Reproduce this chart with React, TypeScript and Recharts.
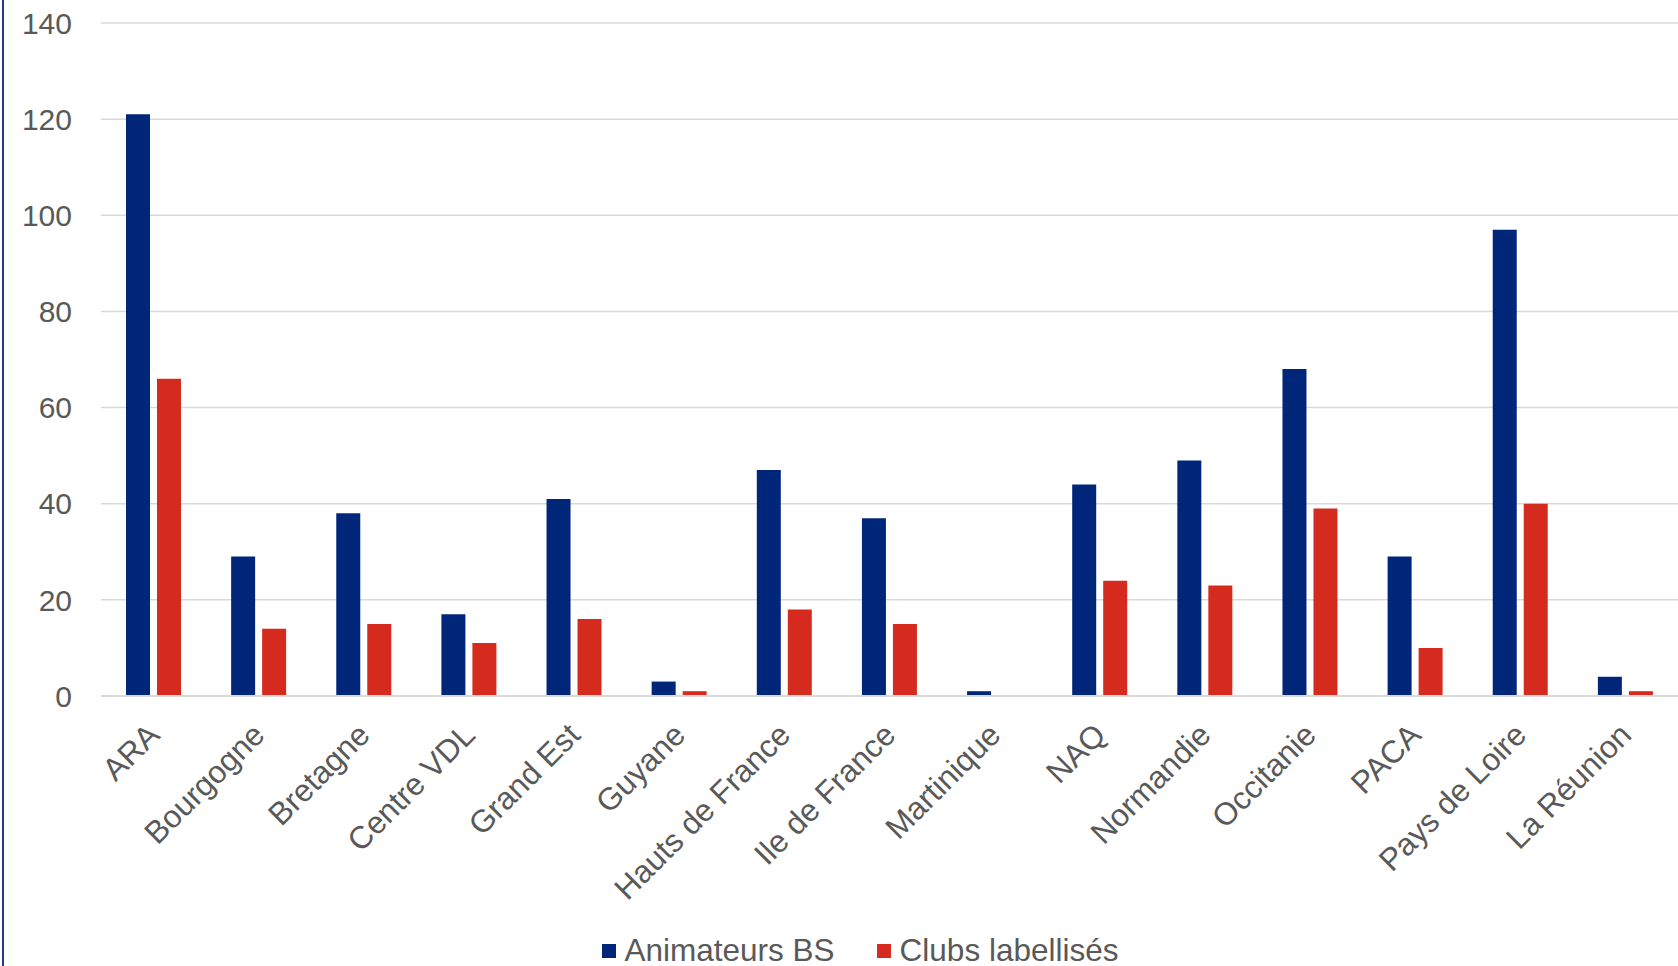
import { BarChart, Bar, XAxis, YAxis, CartesianGrid, Legend } from "recharts";

// régions
const regions = [
  "ARA",
  "Bourgogne",
  "Bretagne",
  "Centre VDL",
  "Grand Est",
  "Guyane",
  "Hauts de France",
  "Ile de France",
  "Martinique",
  "NAQ",
  "Normandie",
  "Occitanie",
  "PACA",
  "Pays de Loire",
  "La Réunion"
];

const animateurs = [121, 29, 38, 17, 41, 3, 47, 37, 1, 44, 49, 68, 29, 97, 4];
const clubs = [66, 14, 15, 11, 16, 1, 18, 15, 0, 24, 23, 39, 10, 40, 1];

const yTicks = [0, 20, 40, 60, 80, 100, 120, 140];

const BLUE = "#00267A";
const RED = "#D52B1F";
const TEXT = "#595959";
const FONT = "'Liberation Sans', Arial, sans-serif";

const data = regions.map((name, i) => ({
  name,
  animateurs: animateurs[i],
  clubs: clubs[i]
}));

function RegionTick(props: any) {
  const { x, y, payload } = props;
  const ax = x - 8;
  const ay = y + 25;
  return (
    <text
      x={ax}
      y={ay}
      dy="0.71em"
      transform={`rotate(-45, ${ax}, ${ay})`}
      textAnchor="end"
      fill={TEXT}
      fontSize={31.5}
      fontFamily={FONT}
    >
      {payload.value}
    </text>
  );
}

function LegendContent() {
  const items = [
    { label: "Animateurs BS", color: BLUE },
    { label: "Clubs labellisés", color: RED }
  ];
  return (
    <div
      style={{
        display: "flex",
        justifyContent: "center",
        alignItems: "center",
        paddingLeft: 42,
        transform: "translateY(12px)"
      }}
    >
      {items.map(it => (
        <span
          key={it.label}
          style={{
            display: "inline-flex",
            alignItems: "center",
            margin: "0 21px",
            fontSize: 31.5,
            fontFamily: FONT,
            color: TEXT
          }}
        >
          <span
            style={{
              width: 14,
              height: 14,
              background: it.color,
              display: "inline-block",
              marginRight: 9
            }}
          />
          {it.label}
        </span>
      ))}
    </div>
  );
}

export default function App() {
  return (
    <div style={{ position: "absolute", left: 0, top: 0, width: 1678, height: 966, background: "#fff" }}>
      <div
        style={{
          position: "absolute",
          left: 2,
          top: 0,
          width: 2,
          height: 966,
          background: "#1F3A8A"
        }}
      />
      <BarChart
        width={1678}
        height={966}
        data={data}
        margin={{ top: 23, right: 0, left: 0, bottom: 0 }}
        barSize={24}
        barGap={7}
      >
        <CartesianGrid vertical={false} stroke="#d9d9d9" strokeWidth={1.5} />
        <XAxis
          dataKey="name"
          interval={0}
          tickLine={false}
          axisLine={{ stroke: "#d9d9d9", strokeWidth: 2 }}
          tickSize={0}
          tickMargin={0}
          height={224}
          tick={<RegionTick />}
        />
        <YAxis
          width={101}
          domain={[0, 140]}
          ticks={yTicks}
          interval={0}
          axisLine={false}
          tickLine={false}
          tickSize={0}
          tickMargin={29}
          tick={{ fill: TEXT, fontSize: 30, fontFamily: FONT }}
        />
        <Legend verticalAlign="bottom" height={46} content={<LegendContent />} />
        <Bar dataKey="animateurs" name="Animateurs BS" fill={BLUE} isAnimationActive={false} />
        <Bar dataKey="clubs" name="Clubs labellisés" fill={RED} isAnimationActive={false} />
      </BarChart>
    </div>
  );
}
